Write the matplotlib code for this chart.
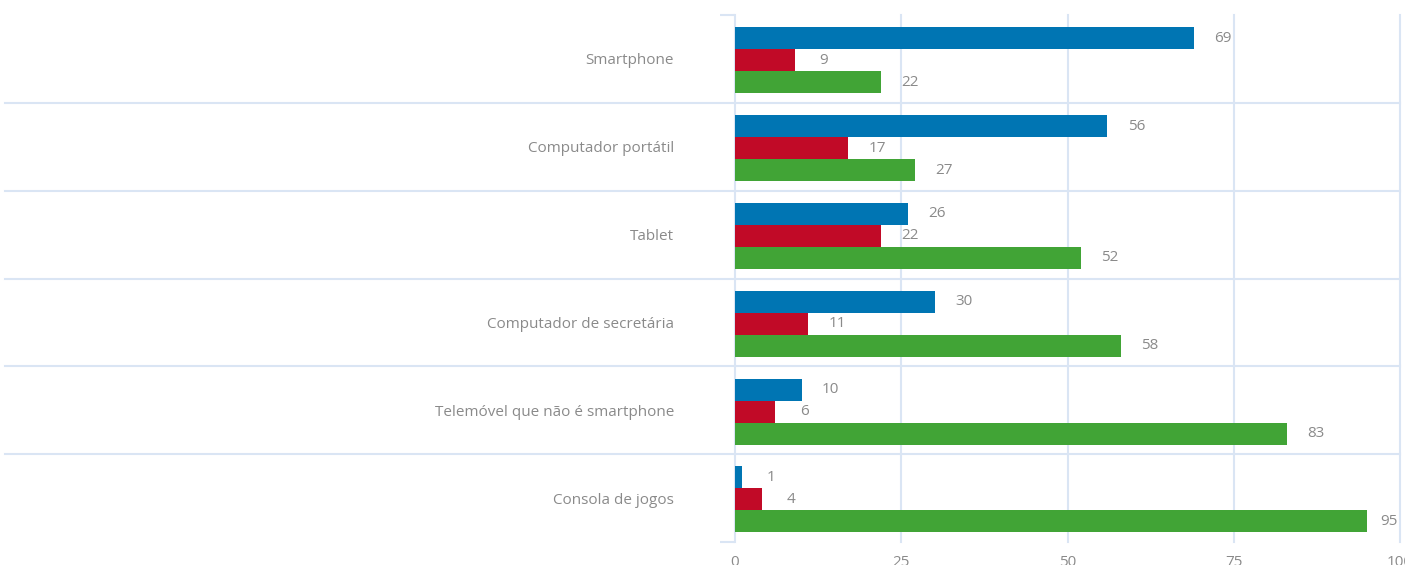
import matplotlib
matplotlib.use("Agg")
import matplotlib.pyplot as plt
import numpy as np

categories = ["Smartphone", "Computador portátil", "Tablet", "Computador de secretária",
              "Telemóvel que não é smartphone", "Consola de jogos"]
serie_azul = [69, 56, 26, 30, 10, 1]
serie_vermelha = [9, 17, 22, 11, 6, 4]
serie_verde = [22, 27, 52, 58, 83, 95]
x_ticks = [0, 25, 50, 75, 100]

colors = ["#0075B3", "#C10A27", "#41A436"]
grid_c = "#DAE5F4"
text_c = "#8A8A8A"

plt.rcParams['font.family'] = ['Open Sans', 'DejaVu Sans']

fig = plt.figure(figsize=(14.05, 5.65), dpi=100)
ax = fig.add_axes([735/1405, 1-542/565, (1400-735)/1405, (542-15)/565])

y = np.arange(len(categories))
h = 0.25
for i, (vals, c) in enumerate(zip([serie_azul, serie_vermelha, serie_verde], colors)):
    pos = y + (i - 1) * h + 0.015
    ax.barh(pos, vals, height=h, color=c, zorder=3)
    for p, v in zip(pos, vals):
        off = 21 if v < 90 else 16
        ax.annotate(str(v), (v, p), xytext=(off, 0), textcoords="offset points",
                    ha="center", va="center", fontsize=11, color=text_c)

ax.set_xlim(0, 100)
ax.set_ylim(len(categories) - 0.5, -0.5)
ax.set_xticks(x_ticks)
ax.tick_params(axis="x", length=0, pad=9, labelsize=11, labelcolor=text_c)
ax.set_yticks(y)
ax.set_yticklabels(categories)
ax.tick_params(axis="y", which="major", length=0, pad=44, labelsize=11, labelcolor=text_c)
ax.set_yticks([-0.5, len(categories) - 0.5], minor=True)
ax.tick_params(axis="y", which="minor", length=11, width=1.5, color=grid_c)

for s in ["top", "right", "bottom"]:
    ax.spines[s].set_visible(False)
ax.spines["left"].set_color(grid_c)
ax.spines["left"].set_linewidth(1.5)

for xv in x_ticks[1:]:
    ax.axvline(xv, color=grid_c, lw=1.5, zorder=1, clip_on=False)

xmin = (5 - 735) / (1400 - 735)
for b in np.arange(0.5, len(categories) - 0.5, 1.0):
    ax.axhline(b, xmin=xmin, xmax=1.0, color=grid_c, lw=1.5, zorder=1, clip_on=False)

fig.savefig("out.png", dpi=100)
